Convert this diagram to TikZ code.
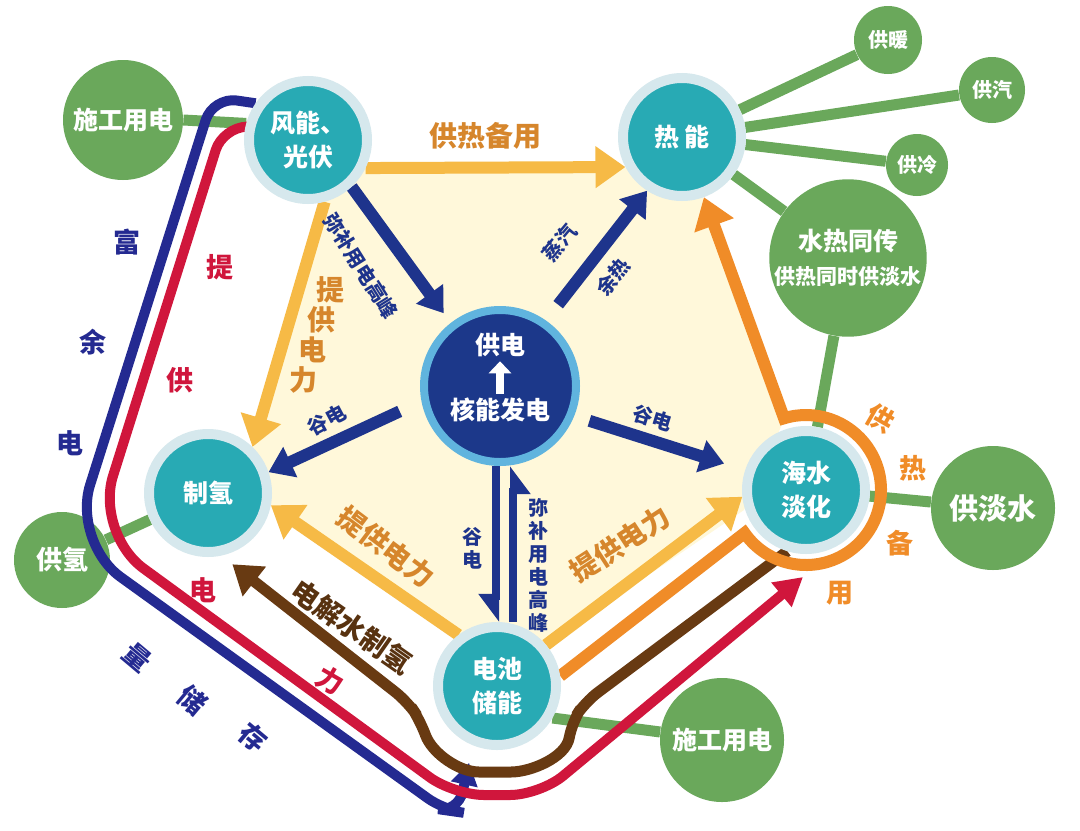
\documentclass[tikz,border=0pt]{standalone}
\usepackage{fontspec}
\setmainfont{Noto Sans CJK SC}
\usetikzlibrary{arrows.meta,backgrounds}
\definecolor{hubteal}{RGB}{40,170,180}
\definecolor{halo}{RGB}{214,232,237}
\definecolor{leafgreen}{RGB}{106,168,91}
\definecolor{navy}{RGB}{30,52,140}
\definecolor{corenavy}{RGB}{28,56,138}
\definecolor{corering}{RGB}{96,180,222}
\definecolor{sun}{RGB}{246,186,70}
\definecolor{heatorange}{RGB}{240,140,40}
\definecolor{ochre}{RGB}{214,134,44}
\definecolor{crimson}{RGB}{208,22,60}
\definecolor{ink}{RGB}{36,42,145}
\definecolor{umber}{RGB}{104,58,18}
\definecolor{umbertext}{RGB}{88,50,16}
\definecolor{cream}{RGB}{255,248,218}
\begin{document}
\begin{tikzpicture}[x=0.5pt,y=0.5pt]
\tikzstyle{every node}+=[inner sep=0pt]
\tikzstyle{hub}=[circle, fill=hubteal, draw=halo, line width=5pt, minimum size=59pt, text=white, align=center, font=\fontsize{12.5}{17}\selectfont\bfseries]
\tikzstyle{core}=[circle, fill=corenavy, draw=corering, line width=4pt, minimum size=76pt]
\tikzstyle{coretext}=[text=white, font=\fontsize{12.5}{15}\selectfont\bfseries]
\tikzstyle{leaf}=[circle, fill=leafgreen, text=white, align=center, font=\fontsize{12.5}{15}\selectfont\bfseries]
\tikzstyle{stem}=[leafgreen, line width=5.5pt]
\tikzstyle{sunarrow}=[sun, line width=6pt, -{Triangle[length=15pt,width=20pt]}]
\tikzstyle{navyarrow}=[navy, line width=6pt, -{Triangle[length=12pt,width=16pt]}]
\tikzstyle{harpoon}=[navy, line width=4pt, -{Triangle[length=12pt,width=17pt,right]}]
\tikzstyle{heatline}=[heatorange, line width=6pt, -{Triangle[length=15pt,width=20pt]}]
\tikzstyle{brownline}=[umber, line width=5.5pt, {Triangle[length=14pt,width=18pt]}-]
\tikzstyle{redline}=[crimson, line width=5pt, -{Triangle[length=14pt,width=15pt]}]
\tikzstyle{blueline}=[ink, line width=5pt, -{Triangle[length=11pt,width=13pt]}]
\tikzstyle{sunlabel}=[text=ochre, font=\fontsize{14}{16}\selectfont\bfseries]
\tikzstyle{navylabel}=[text=navy, align=center, font=\fontsize{10}{11.5}\selectfont\bfseries]
\tikzstyle{redlabel}=[text=crimson, font=\fontsize{13.5}{15}\selectfont\bfseries]
\tikzstyle{bluelabel}=[text=ink, font=\fontsize{13.5}{15}\selectfont\bfseries]
\tikzstyle{ringlabel}=[text=heatorange, font=\fontsize{13.5}{15}\selectfont\bfseries]
\useasboundingbox (0,0) rectangle (1080,-830);
\node[hub] (wind) at (308,-140) {风能、\\光伏};
\node[hub] (heat) at (682,-137) {热\,能};
\node[core] (nuke) at (500,-386) {};
\node[hub] (hydro) at (208,-493) {制氢};
\node[hub] (desal) at (806,-490) {海水\\淡化};
\node[hub] (cell) at (497,-686) {电池\\储能};
\node[coretext] (supply) at ([yshift=20.5pt]nuke.center) {供电};
\node[coretext] (fission) at ([yshift=-12pt]nuke.center) {核能发电};
\draw[white, line width=4pt, -{Triangle[length=6pt,width=11pt]}, shorten <=2pt, shorten >=2pt] (fission.north) -- (supply.south);
\node[leaf, minimum size=60pt] (site) at (123,-120) {施工用电};
\node[leaf, minimum size=34pt, font=\fontsize{10}{12}\selectfont\bfseries] (warm) at (888,-40) {供暖};
\node[leaf, minimum size=33pt, font=\fontsize{10}{12}\selectfont\bfseries] (steam) at (992,-90) {供汽};
\node[leaf, minimum size=31pt, font=\fontsize{10}{12}\selectfont\bfseries] (cool) at (917,-165) {供冷};
\node[leaf, minimum size=77pt, font=\fontsize{12.5}{17}\selectfont\bfseries] (cogen) at (848,-258) {水热同传\\{\fontsize{10.5}{12}\selectfont 供热同时供淡水}};
\node[leaf, minimum size=62pt, font=\fontsize{14.5}{16}\selectfont\bfseries] (fresh) at (993,-508) {供淡水};
\node[leaf, minimum size=62pt] (site2) at (722,-740) {施工用电};
\coordinate (redtip) at (803,-577);
\begin{scope}[on background layer]
\fill[white] (0,0) rectangle (1080,-830);
\fill[cream] (322,-168) -- (692,-168) -- (784,-420) -- (744,-510) -- (543,-647) -- (458,-635) -- (272,-507) -- (253,-448) -- (324,-201) -- cycle;
\node[leaf, minimum size=48pt, font=\fontsize{13}{15}\selectfont\bfseries] (gas) at (62,-560) {供氢};
\draw[stem] (site.east) -- (wind.165);
\draw[stem] (heat) -- (warm);
\draw[stem] (heat) -- (steam);
\draw[stem] (heat) -- (cool);
\draw[stem] (heat) -- (cogen);
\draw[stem] (cogen) -- (desal);
\draw[stem] (fresh) -- (desal);
\draw[stem] (gas) -- (hydro);
\draw[stem] (site2) -- (cell.-30);
\draw[blueline, rounded corners=12pt, shorten >=9pt] (wind.145) -- (213,-97) [rounded corners=30pt] -- (72,-542) [rounded corners=10pt] -- (444,-810) -- (458,-812) -- (cell.-112);
\draw[redline, rounded corners=12pt] (wind.168) -- (223,-127) [rounded corners=30pt] -- (95,-533) [rounded corners=15pt] -- (454,-795) -- (540,-795) -- (redtip);
\draw[brownline, rounded corners=8pt, shorten <=7pt] (hydro.-78) -- (408,-702) -- (420,-720) to[out=-70,in=180] (495,-772) to[out=0,in=-100] (572,-722) -- (585,-702) -- (desal.253);
\draw[heatline] (cell.9) -- ([shift={(215:75)}]desal.center) arc[start angle=215, end angle=467, radius=75] -- (heat.-70);
\draw[sunarrow] (wind.-26) -- (heat.208);
\draw[sunarrow] (wind.-75) -- (hydro.46);
\draw[sunarrow] (cell.127) -- (hydro.-11);
\draw[sunarrow] (cell.40) -- (desal.186);
\draw[navyarrow, shorten >=6pt] (wind.-47) -- (nuke.128);
\draw[navyarrow, shorten <=10pt] (nuke.55) -- (heat.237);
\draw[navyarrow, shorten <=12pt] (nuke.191) -- (hydro.19);
\draw[navyarrow, shorten <=8pt, shorten >=11pt] (nuke.-22) -- (desal.162);
\draw[harpoon] ([xshift=-2pt]nuke.south) -- ([xshift=-2pt]nuke.south |- cell.north);
\draw[harpoon] ([xshift=6.5pt]nuke.south |- cell.north) -- ([xshift=6.5pt]nuke.south);
\end{scope}
\node[sunlabel] (backup) at (485,-136) {供热备用};
\node[sunlabel] (feedA1) at (330,-290) {提};
\node[sunlabel] (feedA2) at (321,-320) {供};
\node[sunlabel] (feedA3) at (312,-350) {电};
\node[sunlabel] (feedA4) at (303,-380) {力};
\node[sunlabel, rotate=-37] (feedB) at (386,-547) {提供电力};
\node[sunlabel, rotate=33] (feedC) at (620,-544) {提供电力};
\node[sunlabel, text=umbertext, rotate=-35] (electro) at (352,-627) {电解水制氢};
\node[navylabel, rotate=-58] (peakA) at (361,-266) {弥补用电高峰};
\node[navylabel, rotate=50] (vapour) at (560,-243) {蒸汽};
\node[navylabel, rotate=50] (waste) at (613,-277) {余热};
\node[navylabel, rotate=28] (valleyA) at (327,-420) {谷电};
\node[navylabel, rotate=-17] (valleyB) at (653,-418) {谷电};
\node[navylabel] (valleyC) at (472,-548) {谷\\电};
\node[navylabel] (peakB) at (538,-565) {弥\\补\\用\\电\\高\\峰};
\node[bluelabel] (spare1) at (127,-242) {富};
\node[bluelabel] (spare2) at (93,-342) {余};
\node[bluelabel] (spare3) at (70,-443) {电};
\node[bluelabel, rotate=-40] (spare4) at (137,-657) {量};
\node[bluelabel, rotate=-40] (spare5) at (193,-700) {储};
\node[bluelabel, rotate=-40] (spare6) at (253,-737) {存};
\node[redlabel] (give1) at (220,-267) {提};
\node[redlabel] (give2) at (180,-380) {供};
\node[redlabel] (give3) at (203,-590) {电};
\node[redlabel, rotate=-30] (give4) at (330,-680) {力};
\node[ringlabel, rotate=-30] (ring1) at (880,-418) {供};
\node[ringlabel] (ring2) at (913,-468) {热};
\node[ringlabel] (ring3) at (900,-543) {备};
\node[ringlabel] (ring4) at (840,-593) {用};
\end{tikzpicture}
\end{document}
